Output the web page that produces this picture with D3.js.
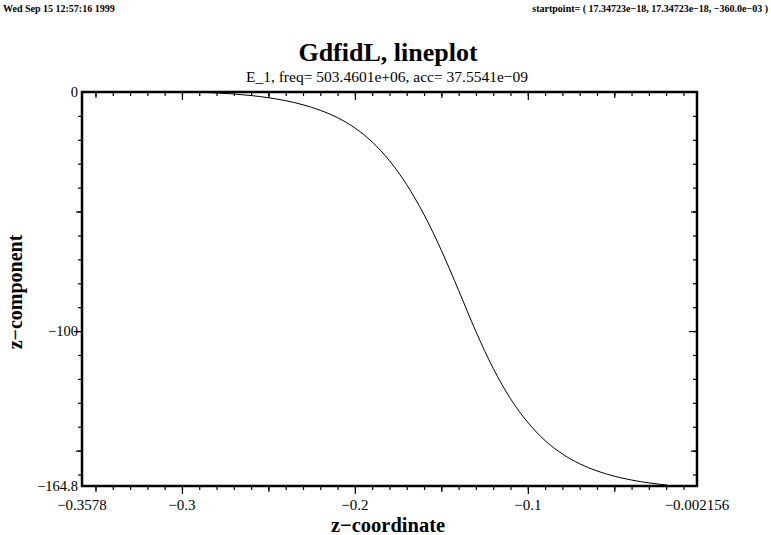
<!DOCTYPE html>
<html>
<head>
<meta charset="utf-8">
<script src="https://cdn.jsdelivr.net/npm/d3@7"></script>
<style>
  html, body { margin: 0; padding: 0; background: #fff; }
  svg { display: block; }
  text { font-family: "Liberation Serif", "Times New Roman", serif; fill: #000; }
</style>
</head>
<body>
<svg id="chart" width="771" height="535"></svg>
<script>
// ---- data ----
const zCoord = [-0.303, -0.29, -0.28, -0.27, -0.26, -0.25, -0.24, -0.23, -0.22, -0.21,
  -0.20, -0.19, -0.18, -0.17, -0.16, -0.15, -0.14, -0.13, -0.12, -0.11,
  -0.10, -0.09, -0.08, -0.07, -0.06, -0.05, -0.04, -0.03, -0.02, -0.019];
const zComp = [0, -0.13, -0.39, -0.84, -1.49, -2.39, -3.64, -5.34, -7.64, -10.74,
  -15.04, -20.9, -28.7, -38.8, -51.3, -66.2, -83.0, -100.2, -115.6, -128.3,
  -138.2, -145.8, -151.4, -155.5, -158.5, -160.7, -162.3, -163.5, -164.4, -164.5];
const xDomain = [-0.3578, -0.002156];
const yDomain = [-164.8, 0];
const xLabelValues = [-0.3578, -0.3, -0.2, -0.1, -0.002156];
const xLabelTexts = ["−0.3578", "−0.3", "−0.2", "−0.1", "−0.002156"];
const yLabelValues = [0, -100, -164.8];
const yLabelTexts = ["0", "−100", "−164.8"];
const xMinorTicks = d3.range(-35, 0).map(i => i / 100);
const xMidTicks = [-0.35, -0.25, -0.15, -0.05];
const xMajorTicks = [-0.3, -0.2, -0.1];
const yMinorTicks = d3.range(-16, 0).map(i => i * 10);
const yMidTicks = [-50, -150];
const yMajorTicks = [-100];
const headerLeft = "Wed Sep 15 12:57:16 1999";
const headerRight = "startpoint= ( 17.34723e−18, 17.34723e−18, −360.0e−03 )";
const titleText = "GdfidL, lineplot";
const subtitleText = "E_1, freq= 503.4601e+06, acc= 37.5541e−09";
const xTitle = "z−coordinate";
const yTitle = "z−component";

// ---- layout ----
const L = 82, R = 697, T = 92, B = 486;
const svg = d3.select("#chart");
const x = d3.scaleLinear().domain(xDomain).range([L, R]);
const y = d3.scaleLinear().domain(yDomain).range([B, T]);

// headers
svg.append("text").attr("x", 3).attr("y", 12).attr("font-size", 10).attr("font-weight", "bold").text(headerLeft);
svg.append("text").attr("x", 768).attr("y", 12).attr("font-size", 10).attr("font-weight", "bold")
  .attr("text-anchor", "end").text(headerRight);
svg.append("text").attr("x", 388).attr("y", 61).attr("font-size", 26).attr("font-weight", "bold")
  .attr("text-anchor", "middle").text(titleText);
svg.append("text").attr("x", 387).attr("y", 82).attr("font-size", 15.5)
  .attr("text-anchor", "middle").text(subtitleText);

// ticks via axes
function tickAxis(axisFn, scale, values, size, transform) {
  const g = svg.append("g").attr("transform", transform)
    .call(axisFn(scale).tickValues(values).tickSize(size).tickFormat(""));
  g.select(".domain").remove();
  g.selectAll("line").attr("stroke", "#000").attr("stroke-width", 1.2);
}
[[xMinorTicks, 4], [xMidTicks, 6], [xMajorTicks, 8]].forEach(([v, s]) => {
  tickAxis(d3.axisBottom, x, v, s, `translate(0,${B})`);
  tickAxis(d3.axisBottom, x, v, s, `translate(0,${T})`);
});
[[yMinorTicks, 4], [yMidTicks, 6], [yMajorTicks, 8]].forEach(([v, s]) => {
  tickAxis(d3.axisLeft, y, v, s, `translate(${L},0)`);
  tickAxis(d3.axisLeft, y, v, s, `translate(${R},0)`);
});

// tick labels
svg.append("g").selectAll("text").data(xLabelValues).join("text")
  .attr("x", d => x(d)).attr("y", 510).attr("font-size", 15).attr("text-anchor", "middle")
  .text((d, i) => xLabelTexts[i]);
svg.append("g").selectAll("text").data(yLabelValues).join("text")
  .attr("x", 78).attr("y", d => y(d)).attr("dy", "0.35em").attr("font-size", 14.5).attr("text-anchor", "end")
  .text((d, i) => yLabelTexts[i]);

// frame
svg.append("rect").attr("x", L).attr("y", T).attr("width", R - L).attr("height", B - T)
  .attr("fill", "none").attr("stroke", "#000").attr("stroke-width", 2.5);

// curve
const pts = zCoord.map((v, i) => [v, zComp[i]]);
svg.append("path").datum(pts)
  .attr("fill", "none").attr("stroke", "#000").attr("stroke-width", 1)
  .attr("d", d3.line().x(d => x(d[0])).y(d => y(d[1])).curve(d3.curveMonotoneX));

// axis titles
svg.append("text").attr("x", 388).attr("y", 532).attr("font-size", 20.5).attr("font-weight", "bold")
  .attr("text-anchor", "middle").text(xTitle);
svg.append("text").attr("transform", "translate(22,292) rotate(-90)").attr("font-size", 20)
  .attr("font-weight", "bold").attr("text-anchor", "middle").text(yTitle);
</script>
</body>
</html>
